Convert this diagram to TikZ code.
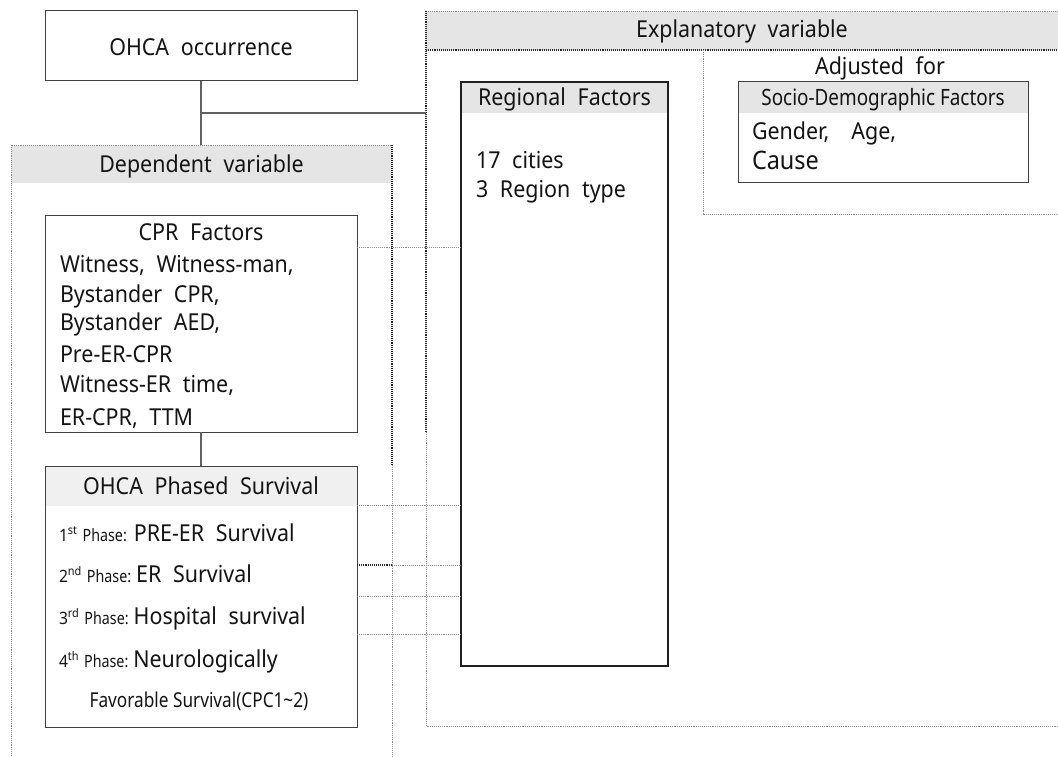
\documentclass[tikz,border=0pt]{standalone}
\usepackage{fontspec}
\setmainfont{Noto Sans}[FakeStretch=0.92,WordSpace=2.1]
\newfontfamily\narrowfont{Noto Sans}[FakeStretch=0.84,WordSpace=1.0]
\usetikzlibrary{fit,calc}

% text sizes (1pt = 1 unit of the picture)
\newcommand\txtM{\fontsize{23.3}{27}\selectfont}
\newcommand\txtL{\fontsize{25.5}{29}\selectfont}
\newcommand\txtOrd{\fontsize{17}{19}\selectfont}

\begin{document}
\begin{tikzpicture}[x=1pt,y=-1pt,
  every node/.style={inner sep=0pt, outer sep=0pt},
  area/.style={fit={#1}, inner sep=0pt},
  frame/.style={draw=black!75, line width=1pt},
  heavyframe/.style={draw=black!88, line width=1.8pt},
  band/.style={fill=black!10},
  lightband/.style={fill=black!6},
  softdots/.style={draw=black!45, densely dotted, line width=0.9pt},
  darkdots/.style={draw=black!85, densely dotted, line width=1.1pt},
  link/.style={draw=black!62, line width=1.4pt},
  dotlink/.style={draw=black!45, densely dotted, line width=0.9pt},
  txt/.style={font=\txtM, text=black!92},
  ctxt/.style={txt, anchor=base},
  ltxt/.style={txt, anchor=base west},
]
\useasboundingbox[fill=white] (0,0) rectangle (1058,757);

% ---- variable groups (dotted frames) ----
\node[area={(11,145) (392,790)}] (dep) {};
\node[area={(426,11) (1090,726)}] (expl) {};
\node[area={(703,50) (1090,214)}] (adj) {};

\fill[band] (dep.north west) rectangle ([yshift=-38pt]dep.north east);
\fill[band] (expl.north west) rectangle ([yshift=-39pt]expl.north east);

\draw[softdots] (dep.south west) -- (dep.north west) -- (dep.north east);
\draw[darkdots] (dep.north east) -- ([yshift=-320pt]dep.north east) coordinate (depmid);
\draw[softdots] (depmid) -- (dep.south east);

\draw[softdots] (expl.north west) -- (expl.north east);
\draw[darkdots] (expl.north west) -- ([yshift=-421pt]expl.north west) coordinate (explmid);
\draw[softdots] (explmid) -- (expl.south west) -- (expl.south east);
\draw[darkdots] ([yshift=-39pt]expl.north west) -- ([yshift=-39pt]expl.north east);

\draw[softdots] (adj.north west) -- (adj.south west) -- (adj.south east);

\node[ctxt] (deptitle) at (201.5,173) {Dependent variable};
\node[ctxt] (expltitle) at (742,38) {Explanatory variable};
\node[ctxt] (adjtitle) at (880,75) {Adjusted for};

% ---- boxes ----
\node[frame, fill=white, minimum width=312pt, minimum height=70pt] (ohca) at (201,46) {};
\node[ctxt] (ohcatext) at (201,56) {OHCA occurrence};

\node[frame, fill=white, minimum width=312pt, minimum height=217pt] (cpr) at (201,323.5) {};

\node[minimum width=312pt, minimum height=261pt] (phase) at (201,596.5) {};
\fill[white] (phase.north west) rectangle (phase.south east);
\fill[lightband] (phase.north west) rectangle ([yshift=-40pt]phase.north east);
\draw[frame] (phase.north west) rectangle (phase.south east);

\node[minimum width=207pt, minimum height=584pt] (reg) at (564.5,374) {};
\fill[white] (reg.north west) rectangle (reg.south east);
\fill[band] (reg.north west) rectangle ([yshift=-31pt]reg.north east);
\draw[heavyframe] (reg.north west) rectangle (reg.south east);

\node[minimum width=290pt, minimum height=101pt] (socio) at (883,132.5) {};
\fill[white] (socio.north west) rectangle (socio.south east);
\fill[band] (socio.north west) rectangle ([yshift=-31pt]socio.north east);
\draw[frame] (socio.north west) rectangle (socio.south east);

% ---- connectors ----
\draw[link] (ohca.south) -- (ohca.south |- dep.north);
\coordinate (junction) at ($(ohca.south)!0.5!(ohca.south |- dep.north)$);
\draw[link] (junction) -- (junction -| expl.west);
\draw[link] (cpr.south) -- (phase.north);

\draw[dotlink] ([yshift=-32pt]cpr.north east) coordinate (c0) -- (c0 -| reg.west);
\draw[dotlink] ([yshift=-39pt]phase.north east) coordinate (c1) -- (c1 -| reg.west);
\draw[darkdots] ([yshift=-99pt]phase.north east) coordinate (c2) -- (c2 -| dep.east);
\draw[dotlink] (c2 -| dep.east) -- (c2 -| reg.west);
\draw[dotlink] ([yshift=-130pt]phase.north east) coordinate (c3) -- (c3 -| reg.west);
\draw[dotlink] ([yshift=-168pt]phase.north east) coordinate (c4) -- (c4 -| reg.west);

% ---- box contents ----
\node[ctxt] (cprtitle) at (201,240) {CPR Factors};
\node[ltxt] (cpr1) at (60,272) {Witness, Witness-man,};
\node[ltxt] (cpr2) at (60,302) {Bystander CPR,};
\node[ltxt] (cpr3) at (60,330) {Bystander AED,};
\node[ltxt] (cpr4) at (60,362) {Pre-ER-CPR};
\node[ltxt] (cpr5) at (60,392) {Witness-ER time,};
\node[ltxt] (cpr6) at (60,425) {ER-CPR, TTM};

\node[ctxt] (phasetitle) at (201,494) {OHCA Phased Survival};
\node[ltxt] (ph1) at (59,541) {{\txtOrd 1\textsuperscript{st}}\hspace{5pt}{\narrowfont\txtOrd Phase:}\hspace{7pt}PRE-ER Survival};
\node[ltxt] (ph2) at (59,582) {{\txtOrd 2\textsuperscript{nd}}\hspace{5pt}{\narrowfont\txtOrd Phase:}\hspace{5pt}ER Survival};
\node[ltxt] (ph3) at (59,624) {{\txtOrd 3\textsuperscript{rd}}\hspace{5pt}{\narrowfont\txtOrd Phase:}\hspace{5pt}Hospital survival};
\node[ltxt] (ph4) at (59,667) {{\txtOrd 4\textsuperscript{th}}\hspace{5pt}{\narrowfont\txtOrd Phase:}\hspace{5pt}Neurologically};
\node[ctxt, font=\narrowfont\fontsize{20.5}{22}\selectfont] (ph4b) at (199,707) {Favorable Survival(CPC1\textasciitilde2)};

\node[ctxt] (regtitle) at (564.5,106) {Regional Factors};
\node[ltxt] (reg1) at (476,168) {17 cities};
\node[ltxt] (reg2) at (476,197) {3 Region type};

\node[ctxt, font=\narrowfont\fontsize{22.5}{24}\selectfont] (sociotitle) at (883,106) {Socio-Demographic Factors};
\node[ltxt] (socio1) at (752,140) {Gender,\hspace{22pt}Age,};
\node[ltxt, font=\txtL] (socio2) at (752,170) {Cause};
\end{tikzpicture}
\end{document}
